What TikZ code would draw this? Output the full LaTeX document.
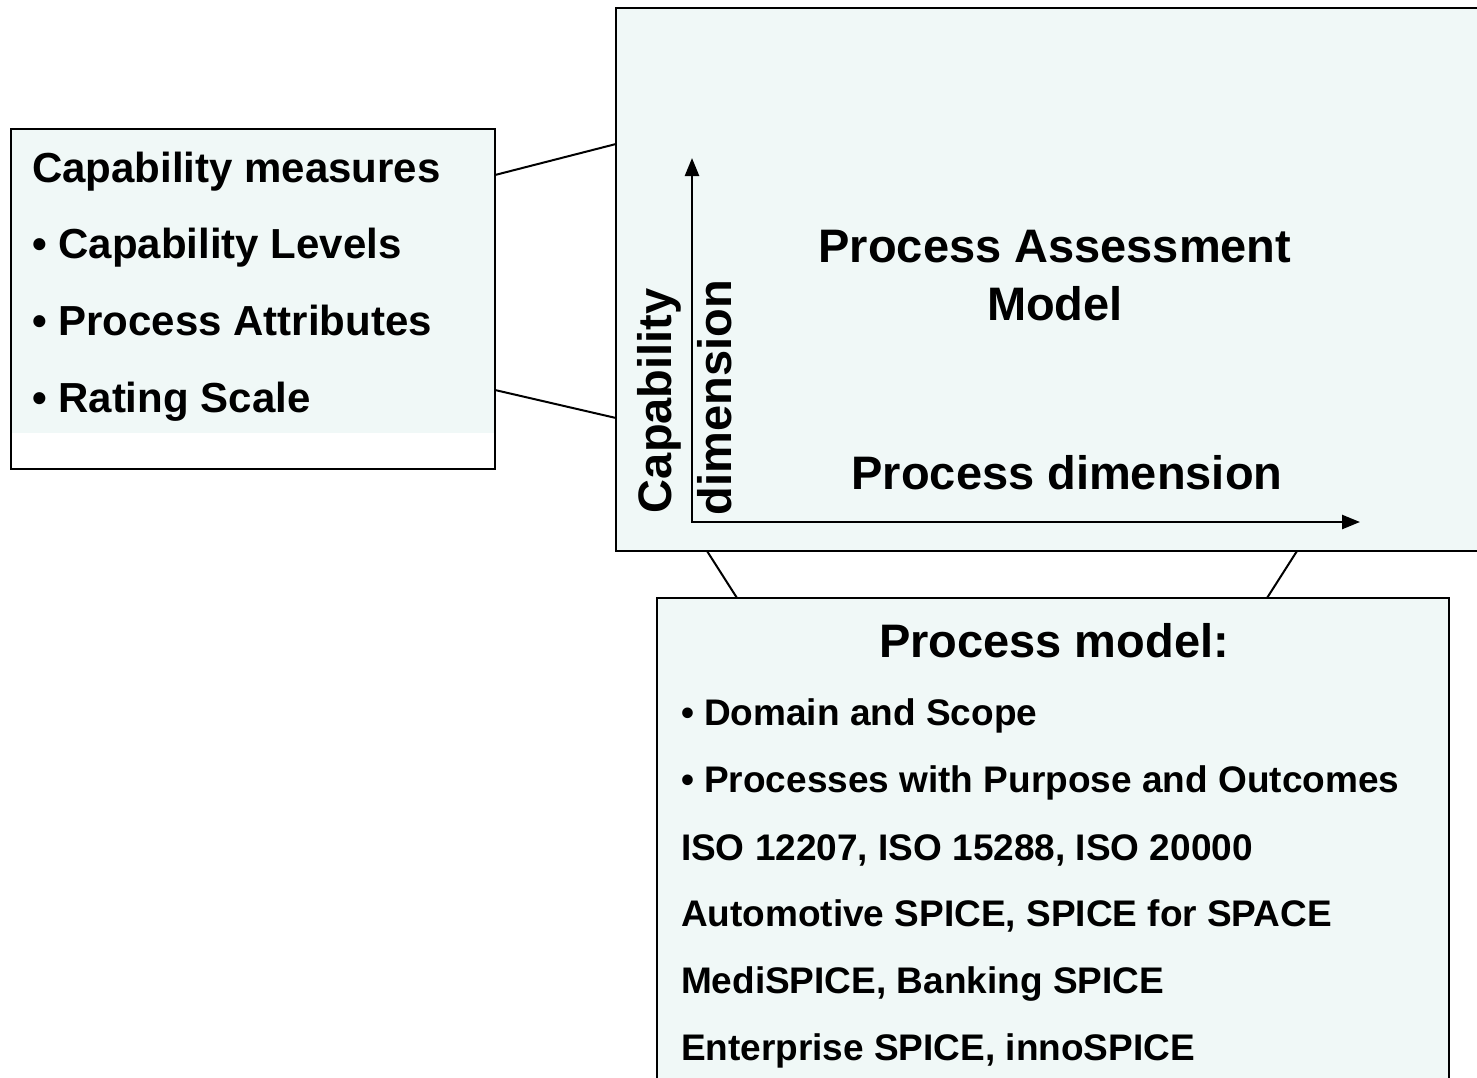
\documentclass[tikz,border=0pt]{standalone}
\usepackage{fontspec}
\setmainfont{Liberation Sans}
\usetikzlibrary{arrows.meta}
\newlength{\du}
\setlength{\du}{1pt}
\definecolor{dialinecolor}{rgb}{0.000000, 0.000000, 0.000000}
\definecolor{diafillcolor}{rgb}{0.941000, 0.973000, 0.969000}

\begin{document}
\begin{tikzpicture}[
  >={Triangle[length=18pt,width=14pt]},
  boxframe/.style={draw=dialinecolor,fill=diafillcolor,line width=2.5\du,inner sep=0pt,outer sep=0pt,anchor=north west},
  captext/.style={anchor=base west,inner sep=0pt,outer sep=0pt,color=dialinecolor,font=\bfseries},
  linkline/.style={draw=dialinecolor,line width=2\du},
  axisline/.style={draw=dialinecolor,line width=2.5\du,<->}
]
\pgftransformxscale{1.000000}
\pgftransformyscale{-1.000000}
\useasboundingbox (0\du,0\du) rectangle (1477\du,1077\du);
\clip (0\du,0\du) rectangle (1477\du,1077\du);
% capability measures, filled only behind the text
\fill[diafillcolor] (12.000000\du,130.000000\du) rectangle (494.000000\du,433.000000\du);
\node[boxframe,fill=none,minimum width=484\du,minimum height=340\du] (measures) at (11.000000\du,129.000000\du){};
\node[captext,font=\bfseries\fontsize{42\du}{50\du}\selectfont] (measures-title) at (32.000000\du,182.000000\du){Capability measures};
\node[captext,font=\bfseries\fontsize{42\du}{50\du}\selectfont] (measures-levels) at (32.000000\du,258.000000\du){\textbullet\ Capability Levels};
\node[captext,font=\bfseries\fontsize{42\du}{50\du}\selectfont] (measures-attr) at (32.000000\du,335.000000\du){\textbullet\ Process Attributes};
\node[captext,font=\bfseries\fontsize{42\du}{50\du}\selectfont] (measures-scale) at (32.000000\du,412.000000\du){\textbullet\ Rating Scale};
% process assessment model
\node[boxframe,minimum width=880\du,minimum height=543\du] (pam) at (616.000000\du,8.000000\du){};
\coordinate (origin) at (692.000000\du,522.000000\du);
\coordinate (captop) at (692.000000\du,158.000000\du);
\coordinate (procend) at (1360.000000\du,522.000000\du);
\draw[axisline] (captop)--(origin)--(procend);
\node[captext,anchor=base,font=\bfseries\fontsize{47\du}{56\du}\selectfont] (pam-title) at (1055.000000\du,262.000000\du){Process Assessment};
\node[captext,anchor=base,font=\bfseries\fontsize{47\du}{56\du}\selectfont] (pam-model) at (1055.000000\du,320.000000\du){Model};
\node[captext,anchor=base,font=\bfseries\fontsize{47\du}{56\du}\selectfont] (procdim) at (1067.000000\du,489.000000\du){Process dimension};
\node[captext,rotate=90,font=\bfseries\fontsize{47\du}{56\du}\selectfont] (capdim) at (671.000000\du,513.000000\du){Capability};
\node[captext,rotate=90,font=\bfseries\fontsize{47\du}{56\du}\selectfont] (capdim-2) at (731.000000\du,515.000000\du){dimension};
% process model
\node[boxframe,minimum width=792\du,minimum height=520\du] (pmodel) at (657.000000\du,598.000000\du){};
\node[captext,anchor=base,font=\bfseries\fontsize{47\du}{56\du}\selectfont] (pmodel-title) at (1054.000000\du,657.000000\du){Process model:};
\node[captext,font=\bfseries\fontsize{37\du}{44\du}\selectfont] (pmodel-1) at (681.000000\du,725.000000\du){\textbullet\ Domain and Scope};
\node[captext,font=\bfseries\fontsize{37\du}{44\du}\selectfont] (pmodel-2) at (681.000000\du,792.000000\du){\textbullet\ Processes with Purpose and Outcomes};
\node[captext,font=\bfseries\fontsize{37\du}{44\du}\selectfont] (pmodel-3) at (681.000000\du,860.000000\du){ISO 12207, ISO 15288, ISO 20000};
\node[captext,font=\bfseries\fontsize{37\du}{44\du}\selectfont] (pmodel-4) at (681.000000\du,926.000000\du){Automotive SPICE, SPICE for SPACE};
\node[captext,font=\bfseries\fontsize{37\du}{44\du}\selectfont] (pmodel-5) at (681.000000\du,993.000000\du){MediSPICE, Banking SPICE};
\node[captext,font=\bfseries\fontsize{37\du}{44\du}\selectfont] (pmodel-6) at (681.000000\du,1060.000000\du){Enterprise SPICE, innoSPICE};
% zoom lines
\coordinate (measures-a) at (495.000000\du,175.000000\du);
\coordinate (pam-a) at (616.000000\du,144.000000\du);
\coordinate (measures-b) at (495.000000\du,390.000000\du);
\coordinate (pam-b) at (616.000000\du,418.000000\du);
\coordinate (pam-c) at (707.000000\du,551.000000\du);
\coordinate (pmodel-c) at (737.000000\du,598.000000\du);
\coordinate (pam-d) at (1297.000000\du,551.000000\du);
\coordinate (pmodel-d) at (1267.000000\du,598.000000\du);
\draw[linkline] (measures-a)--(pam-a);
\draw[linkline] (measures-b)--(pam-b);
\draw[linkline] (pam-c)--(pmodel-c);
\draw[linkline] (pam-d)--(pmodel-d);
\end{tikzpicture}
\end{document}
